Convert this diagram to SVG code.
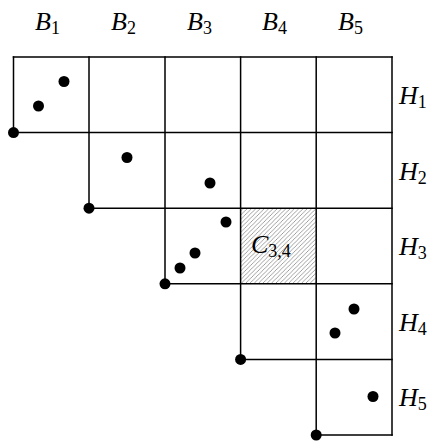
<svg xmlns="http://www.w3.org/2000/svg" width="445" height="441" viewBox="0 0 445 441">
<style>
.ln{stroke:#000;stroke-width:1.5;fill:none;stroke-linecap:square}
.dot{fill:#000}
.lab{font-family:"Liberation Serif","DejaVu Serif",serif;font-size:26px;font-style:italic;fill:#000}
.sub{font-style:normal;font-size:18px}
</style>
<defs>
<pattern id="hatch" patternUnits="userSpaceOnUse" width="4.3" height="4.3">
<path d="M-1,1 l2,-2 M0,4.3 l4.3,-4.3 M3.3,5.3 l2,-2" stroke="#777" stroke-width="0.7"/>
</pattern>
</defs>
<g id="hatched-cell">
<rect x="241" y="208" width="75.6" height="75.6" fill="url(#hatch)"/>
</g>
<g id="connectors">
<path class="ln" d="M13.5,57 H392 M13.5,132.6 H392 M89,208.2 H392 M165,283.8 H392 M240.6,359.4 H392 M316.2,435 H392"/>
<path class="ln" d="M13.5,57 V132.6 M89,57 V208.2 M165,57 V283.8 M240.6,57 V359.4 M316.2,57 V435 M392,57 V435"/>
</g>
<g id="corner-dots">
<circle class="dot" cx="13.5" cy="132.6" r="5.5"/>
<circle class="dot" cx="89" cy="208.2" r="5.5"/>
<circle class="dot" cx="165" cy="283.8" r="5.5"/>
<circle class="dot" cx="240.6" cy="359.4" r="5.5"/>
<circle class="dot" cx="316.2" cy="435" r="5.5"/>
</g>
<g id="points">
<circle class="dot" cx="38.5" cy="106" r="5.5"/>
<circle class="dot" cx="64" cy="81.5" r="5.5"/>
<circle class="dot" cx="127" cy="157.5" r="5.5"/>
<circle class="dot" cx="210" cy="183" r="5.5"/>
<circle class="dot" cx="180" cy="268" r="5.5"/>
<circle class="dot" cx="195" cy="253" r="5.5"/>
<circle class="dot" cx="226" cy="222" r="5.5"/>
<circle class="dot" cx="335" cy="333" r="5.5"/>
<circle class="dot" cx="354" cy="309" r="5.5"/>
<circle class="dot" cx="373" cy="396.5" r="5.5"/>
</g>
<g id="col-labels">
<text class="lab" x="35" y="30">B<tspan class="sub" dy="4">1</tspan></text>
<text class="lab" x="111" y="30">B<tspan class="sub" dy="4">2</tspan></text>
<text class="lab" x="187" y="30">B<tspan class="sub" dy="4">3</tspan></text>
<text class="lab" x="262" y="30">B<tspan class="sub" dy="4">4</tspan></text>
<text class="lab" x="338" y="30">B<tspan class="sub" dy="4">5</tspan></text>
</g>
<g id="row-labels">
<text class="lab" x="399" y="104">H<tspan class="sub" dy="4">1</tspan></text>
<text class="lab" x="399" y="179.6">H<tspan class="sub" dy="4">2</tspan></text>
<text class="lab" x="399" y="255.2">H<tspan class="sub" dy="4">3</tspan></text>
<text class="lab" x="399" y="330.8">H<tspan class="sub" dy="4">4</tspan></text>
<text class="lab" x="399" y="406.4">H<tspan class="sub" dy="4">5</tspan></text>
</g>
<g id="cell-label">
<text class="lab" x="251" y="253">C<tspan class="sub" dy="4">3,4</tspan></text>
</g>
</svg>
